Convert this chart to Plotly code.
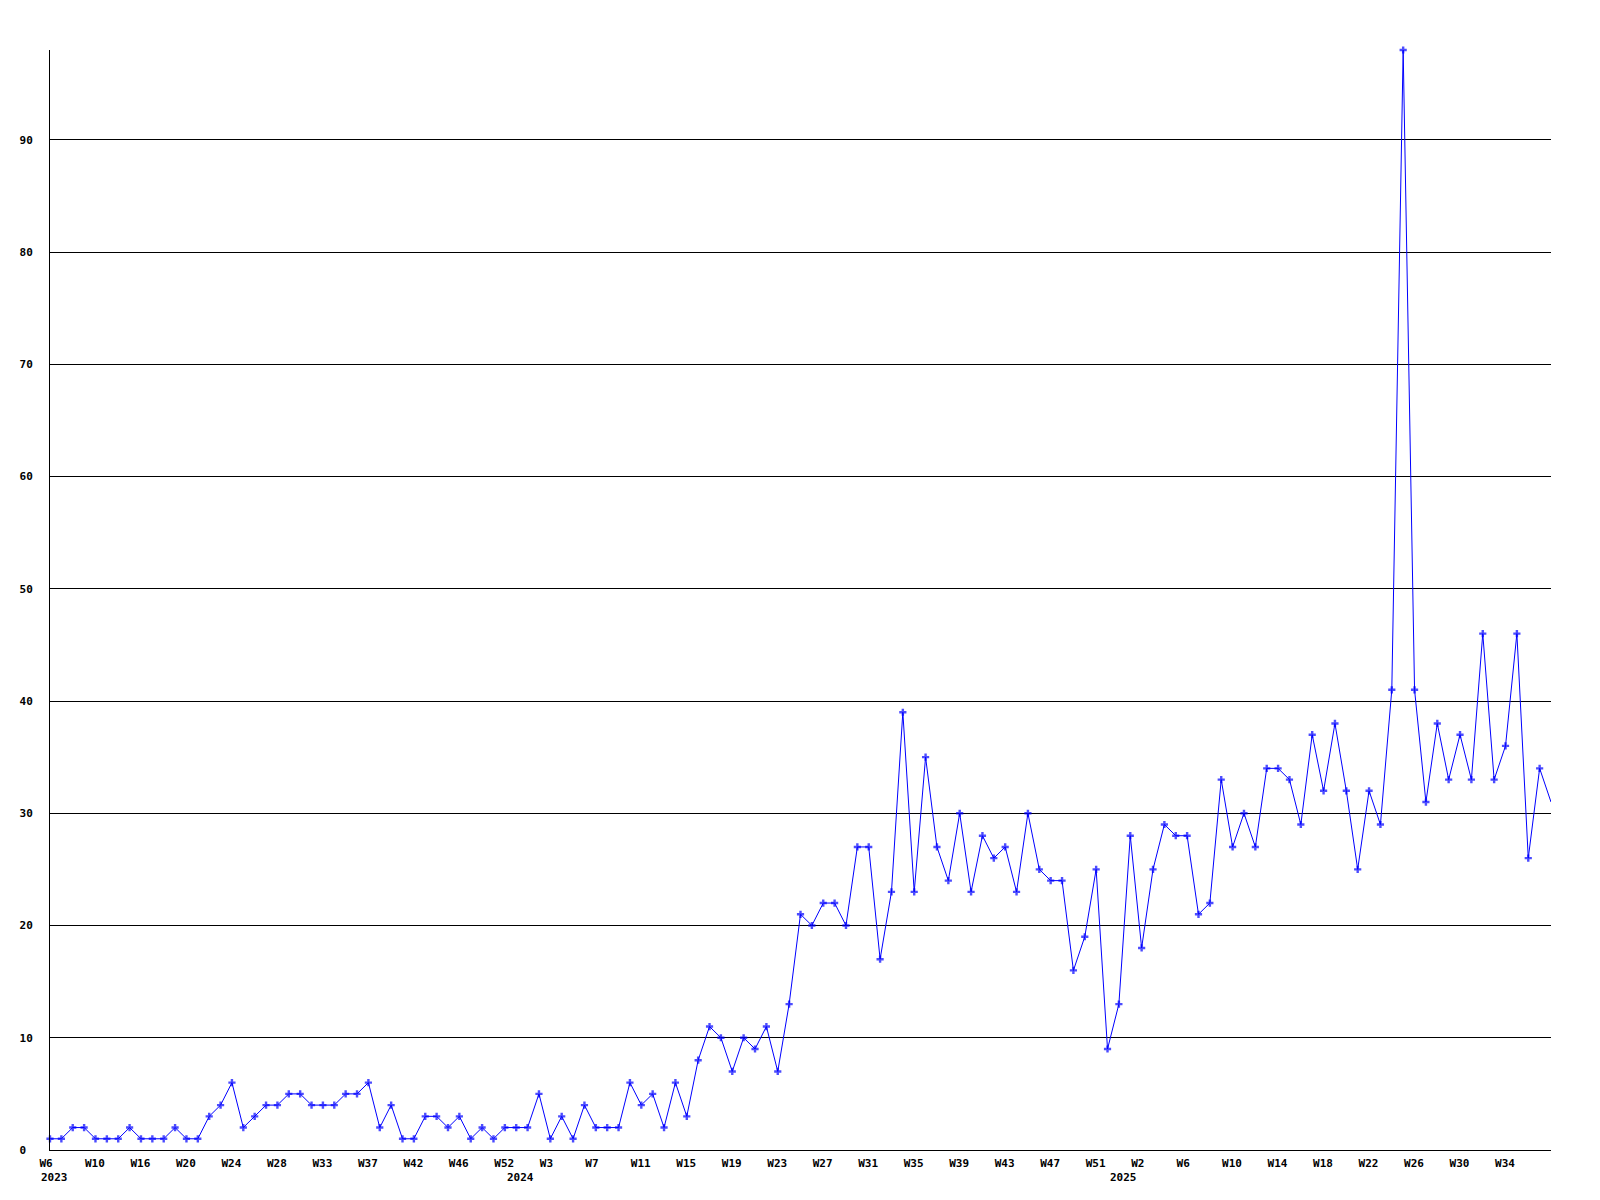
import plotly.graph_objects as go

# ---- data ----
weeks_2023 = [6, 7, 8, 9, 10, 11, 12, 14, 16, 17, 18, 19, 20, 21, 22, 23, 24, 25, 26, 27,
              28, 29, 30, 31, 33, 34, 35, 36, 37, 38, 39, 41, 42, 43, 44, 45, 46, 47, 48, 50, 52]
weeks_2024 = list(range(0, 53))
weeks_2025 = list(range(0, 39))

weeks = ([f"2023-W{w:02d}" for w in weeks_2023] +
         [f"2024-W{w:02d}" for w in weeks_2024] +
         [f"2025-W{w:02d}" for w in weeks_2025])
week_numbers = weeks_2023 + weeks_2024 + weeks_2025

values = [1, 1, 2, 2, 1, 1, 1, 2, 1, 1, 1, 2, 1, 1, 3, 4, 6, 2, 3, 4, 4, 5, 5, 4, 4, 4, 5, 5, 6, 2, 4,
          1, 1, 3, 3, 2, 3, 1, 2, 1, 2, 2, 2, 5, 1, 3, 1, 4, 2, 2, 2, 6, 4, 5, 2, 6, 3, 8, 11, 10, 7,
          10, 9, 11, 7, 13,
          21, 20, 22, 22, 20, 27, 27, 17, 23, 39,
          23, 35, 27, 24, 30, 23, 28, 26, 27, 23,
          30, 25, 24, 24, 16, 19, 25, 9, 13, 28,
          18, 25, 29, 28, 28, 21, 22, 33, 27, 30,
          27, 34, 34, 33, 29, 37, 32, 38, 32, 25,
          32, 29, 41, 98, 41, 31, 38, 33, 37, 33,
          46, 33, 36, 46, 26, 34, 31]

# every 4th week is labelled (the final week at the right edge is not)
tick_weeks = weeks[:-1][::4]
tick_labels = [f"W{n}" for n in week_numbers[:-1][::4]]

year_starts = ["2023-W06", "2024-W00", "2025-W00"]
year_labels = ["2023", "2024", "2025"]

y_ticks = [0, 10, 20, 30, 40, 50, 60, 70, 80, 90]
y_labels = ["0\u00a0", "10", "20", "30", "40", "50", "60", "70", "80", "90"]

FONT = "DejaVu Sans Mono"
BLUE = "#0000ff"

marker_sizes = [6] * (len(values) - 1) + [0]

fig = go.Figure()
fig.add_trace(go.Scatter(
    x=weeks, y=values, mode="lines+markers",
    line=dict(color=BLUE, width=1),
    marker=dict(symbol="cross", size=marker_sizes, color=BLUE, line=dict(width=0)),
    cliponaxis=False, hoverinfo="x+y", showlegend=False,
))

for ws, yl in zip(year_starts, year_labels):
    fig.add_annotation(
        x=ws, xref="x", y=0, yref="paper", text=yl, showarrow=False,
        xanchor="left", yanchor="top", xshift=-11, yshift=-19,
        font=dict(family=FONT, size=11, color="black", weight="bold"),
    )

# page body has an 8px margin, so the plot area is offset accordingly
fig.update_layout(
    width=1600, height=1200,
    margin=dict(l=42, r=57, t=42, b=58, pad=0),
    paper_bgcolor="white", plot_bgcolor="white",
    font=dict(family=FONT, size=11, color="black"),
    xaxis=dict(
        type="category", categoryorder="array", categoryarray=weeks,
        range=[0, len(weeks) - 1],
        tickmode="array", tickvals=tick_weeks, ticktext=tick_labels,
        ticklabelposition="outside right", ticklabelshift=-11, ticklabelstandoff=3,
        tickfont=dict(family=FONT, size=11, color="black", weight="bold"),
        showgrid=False, showline=True, linecolor="black", linewidth=1,
        ticks="", zeroline=False,
    ),
    yaxis=dict(
        range=[0, 98], tickmode="array", tickvals=y_ticks, ticktext=y_labels,
        tickfont=dict(family=FONT, size=11, color="black", weight="bold"),
        showgrid=True, gridcolor="black", gridwidth=1,
        showline=True, linecolor="black", linewidth=1,
        ticks="", zeroline=False, ticklabelstandoff=14,
    ),
)

fig.write_html("out.html")
